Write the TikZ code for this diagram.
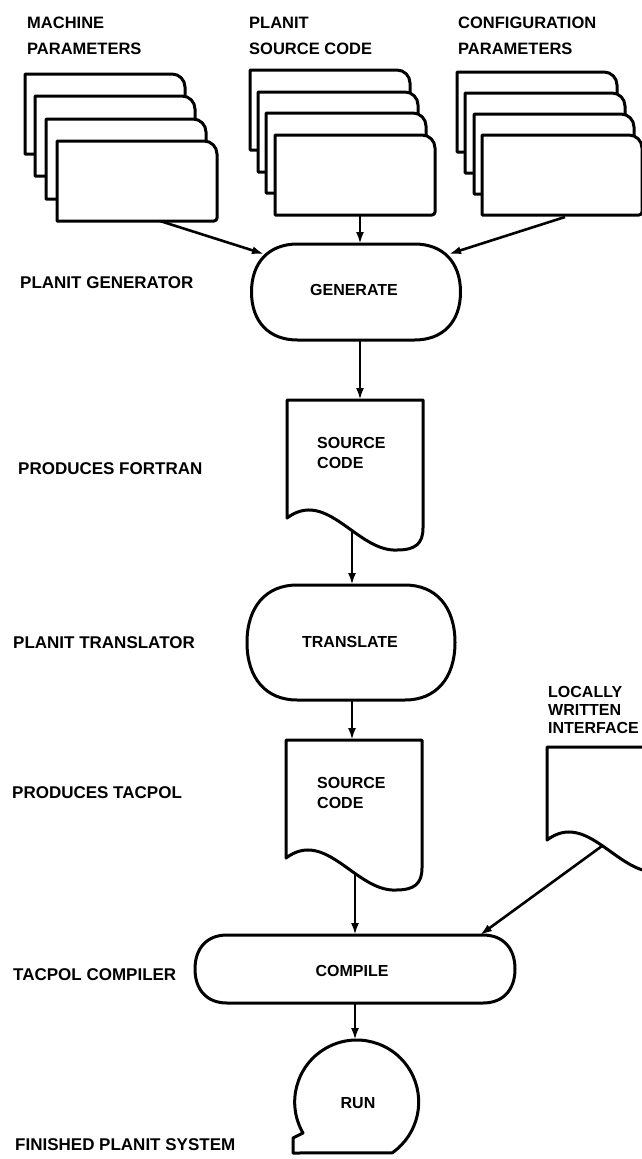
\documentclass[tikz,border=0pt]{standalone}
\usepackage{fontspec}
\setmainfont{Liberation Sans}
\usetikzlibrary{arrows.meta}
\def\tkfac{0.62}
\newcommand\termpath[5]{%
  \draw[outline] ({#1-#3+#5},{#2-#4}) -- ({#1+#3-#5},{#2-#4})
   .. controls ({#1+#3-#5+\tkfac*#5},{#2-#4}) and ({#1+#3},{#2-\tkfac*#4}) .. ({#1+#3},#2)
   .. controls ({#1+#3},{#2+\tkfac*#4}) and ({#1+#3-#5+\tkfac*#5},{#2+#4}) .. ({#1+#3-#5},{#2+#4})
   -- ({#1-#3+#5},{#2+#4})
   .. controls ({#1-#3+#5-\tkfac*#5},{#2+#4}) and ({#1-#3},{#2+\tkfac*#4}) .. ({#1-#3},#2)
   .. controls ({#1-#3},{#2-\tkfac*#4}) and ({#1-#3+#5-\tkfac*#5},{#2-#4}) .. cycle;}
\newcommand\docpath[3]{%
  \draw[outline] (#1,#2) -- ({#1+136},#2) -- ({#1+136},{#2+#3-22})
   .. controls ({#1+136},{#2+#3-6}) and ({#1+128},{#2+#3}) .. ({#1+110},{#2+#3})
   .. controls ({#1+70},{#2+#3+2}) and ({#1+40},{#2+#3-62}) .. ({#1},{#2+#3-32}) -- cycle;}
\tikzset{
  outline/.style={line width=3pt, line join=round},
  conn/.style={line width=2.6pt, -{Latex[length=12pt,width=8pt]}},
  lbl/.style={font=\fontsize{17}{20}\selectfont\bfseries, inner sep=0pt, anchor=west},
  toplbl/.style={font=\fontsize{16.5}{26.5}\selectfont\bfseries, inner sep=0pt, anchor=north west, align=left},
  intxt/.style={font=\fontsize{16}{20}\selectfont\bfseries, inner sep=0pt, align=left},
  card/.pic={\draw[outline, fill=white] (0,0) -- (147,0) arc[start angle=-90,end angle=0,radius=13] -- (160,77) arc[start angle=0,end angle=90,radius=3] -- (0,80) -- cycle;},
}
\begin{document}
\begin{tikzpicture}[x=1pt,y=-1pt]
\useasboundingbox (0,0) rectangle (642,1159);
\clip (0,0) rectangle (642,1159);
\fill[white] (0,0) rectangle (642,1159);

% top labels
\node[toplbl] (lmach) at (27,16.5) {MACHINE\\PARAMETERS};
\node[toplbl] (lsrc) at (249,16.5) {PLANIT\\SOURCE CODE};
\node[toplbl] (lconf) at (458,16.5) {CONFIGURATION\\PARAMETERS};

% card stacks
\foreach \cx/\cy in {25/74, 35/96, 46/119, 57/141} {\pic at (\cx,\cy) {card};}
\foreach \cx/\cy in {250/70, 258/92, 266/113, 275/135} {\pic at (\cx,\cy) {card};}
\foreach \cx/\cy in {457/72, 465/93, 474/114, 482/135} {\pic at (\cx,\cy) {card};}
\coordinate (mout) at (160,221);
\coordinate (sout) at (360,215);
\coordinate (cout) at (565,217);

% left labels
\node[lbl] (lgen) at (20,283) {PLANIT GENERATOR};
\node[lbl] (lfor) at (18,469) {PRODUCES FORTRAN};
\node[lbl] (ltra) at (13,643) {PLANIT TRANSLATOR};
\node[lbl] (ltac) at (12,793) {PRODUCES TACPOL};
\node[lbl] (lcom) at (13,975) {TACPOL COMPILER};
\node[lbl] (lfin) at (15,1145) {FINISHED PLANIT SYSTEM};

% generate
\termpath{356}{292}{104.5}{48}{46}
\node[intxt] (gen) at (354,290) {GENERATE};
\coordinate (gtop) at (360,244);
\coordinate (gin1) at (264,254);
\coordinate (gin3) at (449,254);
\coordinate (gbot) at (360,340);

% source code 1
\docpath{287}{400}{150}
\node[intxt, anchor=north west] (src1) at (317,437.5) {SOURCE\\CODE};
\coordinate (d1top) at (360,400);
\coordinate (d1bot) at (352,531);

% translate
\termpath{351}{642.5}{104}{57.5}{50}
\node[intxt] (tra) at (350,642) {TRANSLATE};
\coordinate (ttop) at (352,585);
\coordinate (tbot) at (352,700);

% source code 2
\docpath{286}{740}{150}
\node[intxt, anchor=north west] (src2) at (317,777.5) {SOURCE\\CODE};
\coordinate (d2top) at (352,740);
\coordinate (d2bot) at (355,873);

% locally written interface
\node[intxt, font=\fontsize{16}{18}\selectfont\bfseries, anchor=north west] (lwi) at (548,686) {LOCALLY\\WRITTEN\\INTERFACE};
\docpath{547}{747}{125}
\coordinate (d3out) at (602,846);

% compile
\termpath{355}{969}{160}{34}{32}
\node[intxt] (com) at (352,971) {COMPILE};
\coordinate (ctop) at (355,935);
\coordinate (cin) at (480,935);
\coordinate (cbot) at (355,1003);

% run
\draw[outline] (303,1133) arc[start angle=150,end angle=415,radius=62]
  -- (293,1153) -- (293,1138) -- cycle;
\node[intxt] (run) at (358,1103) {RUN};
\coordinate (rtop) at (355,1040);

% connectors
\draw[conn] (mout) -- (gin1);
\draw[conn] (sout) -- (gtop);
\draw[conn] (cout) -- (gin3);
\draw[conn] (gbot) -- (d1top);
\draw[conn] (d1bot) -- (ttop);
\draw[conn] (tbot) -- (d2top);
\draw[conn] (d2bot) -- (ctop);
\draw[conn] (d3out) -- (cin);
\draw[conn] (cbot) -- (rtop);
\end{tikzpicture}
\end{document}
